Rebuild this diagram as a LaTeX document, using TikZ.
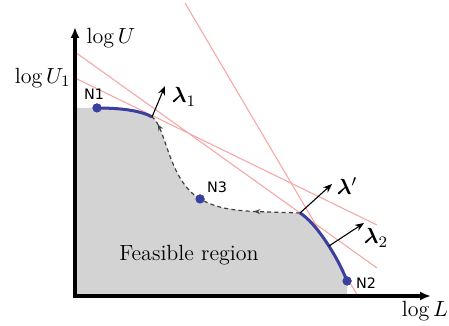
\documentclass[tikz,border=0pt]{standalone}
\usepackage{amsmath}
\usepackage{fontspec}
\newfontfamily\nfont{DejaVu Sans}
\usetikzlibrary{arrows.meta,decorations.markings}
\definecolor{front}{HTML}{3B3F9E}
\definecolor{feas}{HTML}{D3D3D3}
\definecolor{pinkline}{HTML}{F6A8A8}
\definecolor{dashc}{HTML}{404040}
\tikzset{
  axis/.style={line width=1.6pt,-{Latex[length=5.5pt,width=4.5pt]}},
  tangent/.style={pinkline,line width=0.55pt},
  frontline/.style={front,line width=1.5pt},
  normalvec/.style={black,line width=0.55pt,-{Stealth[length=4.5pt,width=3.5pt]}},
  pointdot/.style={circle,fill=front,inner sep=0pt,minimum size=4.6pt},
  nlabel/.style={font=\nfont\fontsize{7.2}{8}\selectfont,inner sep=0pt},
  mlabel/.style={font=\fontsize{11}{13}\selectfont,inner sep=0pt},
  dashpath/.style={dashc,line width=0.6pt,dash pattern=on 2pt off 1.6pt},
}
\begin{document}
\begin{tikzpicture}[x=0.5pt,y=-0.5pt]
\useasboundingbox (0,0) rectangle (449,326);
% key points
\coordinate (O) at (75,296);
\coordinate (Ytop) at (75,27);
\coordinate (Xend) at (431,296);
\coordinate (Yfill) at (75,108);
\coordinate (Xfill) at (347,296);
\coordinate (P1) at (152,117);
\coordinate (Pp) at (300,213);
\coordinate (P2) at (329,246);
% tangent line ends
\coordinate (A1) at (75,52);  \coordinate (A2) at (377,268);
\coordinate (B1) at (75,78);  \coordinate (B2) at (377,225);
\coordinate (C1) at (185,3);  \coordinate (C2) at (359,298);
% vector tips
\coordinate (V1) at (165,86);
\coordinate (Vp) at (332,184);
\coordinate (V2) at (364,223);

\node[pointdot] (N1) at (97,108) {};
\node[pointdot] (N3) at (200,199) {};
\node[pointdot] (N2) at (347,281) {};

% feasible region
\fill[feas] (O) -- (Yfill) -- (97,108) .. controls (118,108) and (140,110) .. (P1)
  .. controls (166,126) and (168,180) .. (200,199)
  .. controls (225,213) and (250,211) .. (Pp)
  .. controls (315,222) and (337,255) .. (347,281) -- (Xfill) -- cycle;

% tangent lines
\draw[tangent] (A1) -- (A2);
\draw[tangent] (B1) -- (B2);
\draw[tangent] (C1) -- (C2);

% dashed non-convex part, traversed from Pp to P1
\draw[dashpath,postaction={decorate},decoration={markings,
   mark=at position 0.45 with {\arrow[solid]{Stealth[length=3pt,width=2.6pt]}}}]
  (Pp) .. controls (250,211) and (225,213) .. (N3.center);
\draw[dashpath,postaction={decorate},decoration={markings,
   mark=at position 0.9 with {\arrow[solid]{Stealth[length=3pt,width=2.6pt]}}}]
  (N3.center) .. controls (168,180) and (166,126) .. (P1);

% convex front parts
\draw[frontline] (N1.center) .. controls (118,108) and (140,110) .. (P1);
\draw[frontline] (Pp) .. controls (315,222) and (337,255) .. (N2.center);

% redraw dots on top
\node[pointdot] at (N1) {};
\node[pointdot] at (N3) {};
\node[pointdot] at (N2) {};

% axes
\draw[axis] (O) -- (Ytop);
\draw[axis] ([xshift=-0.8pt]O) -- (Xend);

% normal vectors
\draw[normalvec] (P1) -- (V1);
\draw[normalvec] (Pp) -- (Vp);
\draw[normalvec] (P2) -- (V2);

% labels
\node[mlabel] (lbU) at (111,38) {$\log U$};
\node[mlabel,anchor=east] (lbU1) at (71,78) {$\log U_1$};
\node[mlabel] (lbL) at (425,311) {$\log L$};
\node[mlabel] (lbF) at (189,255) {Feasible region};
\node[mlabel] (lb1) at (184,97) {$\boldsymbol{\lambda}_1$};
\node[mlabel] (lbp) at (347,186) {$\boldsymbol{\lambda}'$};
\node[mlabel] (lb2) at (376,238) {$\boldsymbol{\lambda}_2$};
\node[nlabel] (tN1) at (94,94) {N1};
\node[nlabel] (tN3) at (217,187) {N3};
\node[nlabel] (tN2) at (366,283) {N2};
\end{tikzpicture}
\end{document}
